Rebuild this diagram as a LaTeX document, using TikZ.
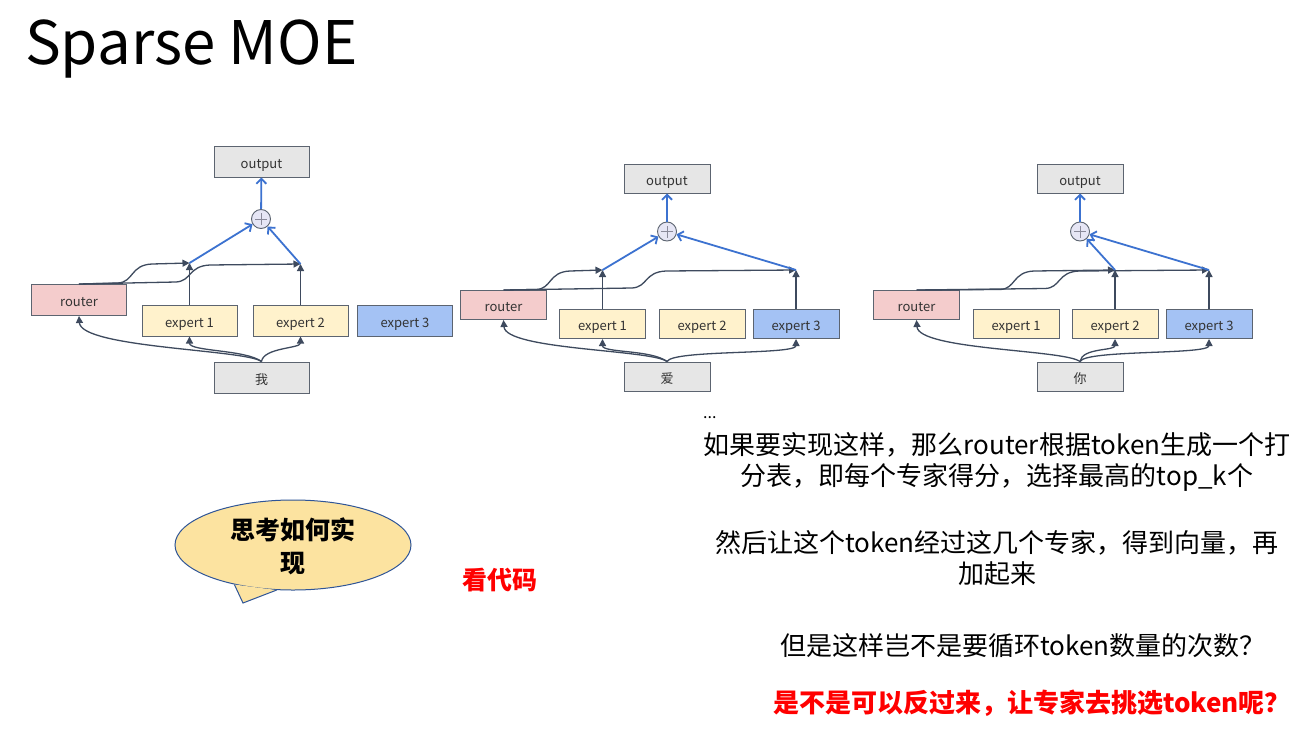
\documentclass[tikz,border=0pt]{standalone}
\usepackage{fontspec}
\setmainfont{Noto Sans CJK SC}
\usetikzlibrary{arrows.meta,shapes.geometric}
\definecolor{boxline}{HTML}{5C6470}
\definecolor{darkline}{HTML}{3E4A5E}
\definecolor{blueline}{HTML}{3C72D0}
\definecolor{grayfill}{HTML}{E6E6E6}
\definecolor{routerfill}{HTML}{F4CCCC}
\definecolor{expfill}{HTML}{FFF2CC}
\definecolor{exp3fill}{HTML}{A4C2F4}
\definecolor{plusfill}{HTML}{E6E6F5}
\definecolor{plusc}{HTML}{8A8A9A}
\definecolor{txt}{HTML}{333333}
\definecolor{bubblefill}{HTML}{FCE3A0}
\definecolor{bubbleline}{HTML}{2F5597}
\definecolor{redtxt}{HTML}{FF0000}
\tikzset{
  box/.style={draw=boxline, line width=1bp, minimum width=95bp, minimum height=31bp,
    inner sep=0pt, text height=13.5bp, text depth=0bp, font=\fontsize{13bp}{15bp}\selectfont, text=txt},
  sbox/.style={box, minimum width=86bp, minimum height=29bp},
  grayf/.style={fill=grayfill},
  routerf/.style={fill=routerfill},
  expf/.style={fill=expfill},
  exp3f/.style={fill=exp3fill},
  plusnode/.style={circle, draw=boxline, fill=plusfill, line width=0.9bp, minimum size=19bp, inner sep=0pt,
    path picture={\draw[draw=plusc, line width=0.8bp]
      ([xshift=-6bp]path picture bounding box.center) -- ([xshift=6bp]path picture bounding box.center)
      ([yshift=-6bp]path picture bounding box.center) -- ([yshift=6bp]path picture bounding box.center);}},
  darr/.style={draw=darkline, line width=1.3bp, -{Triangle[length=7bp,width=7bp]}},
  barr/.style={draw=blueline, line width=1.8bp, -{Straight Barb[length=5bp,width=10bp]}},
  body/.style={inner sep=0pt, text=black, align=center, font=\fontsize{26bp}{31bp}\selectfont},
}
\begin{document}
\begin{tikzpicture}[x=1bp,y=-1bp]
\useasboundingbox[fill=white] (0,0) rectangle (1301,737);

% title
\node[anchor=base west, inner sep=0pt, font=\fontsize{60bp}{70bp}\selectfont] (title) at (25,65) {Sparse MOE};

% ---------- diagram 1 ----------
\node[box, grayf] (out1) at (261.5,161.5) {output};
\node[plusnode] (p1) at (261,219) {};
\node[box, routerf] (r1) at (79,300) {router};
\node[box, expf] (a1) at (189.5,320.5) {expert 1};
\node[box, expf] (b1) at (300.5,320.5) {expert 2};
\node[box, exp3f] (c1) at (405,320.5) {expert 3};
\node[box, grayf] (t1) at (261.5,377.5) {我};
\coordinate (j1a) at (189.5,263);
\coordinate (j1b) at (300.5,264);
\draw[darr] (a1.north) -- (j1a);
\draw[darr] (b1.north) -- (j1b);
\draw[darr] (r1.north) -- (118,283) .. controls (134,282) and (130,265) .. (152,264) -- (j1a);
\draw[darr] (r1.north) -- (176,282) .. controls (192,281) and (188,266) .. (210,265) -- (j1b);
\draw[barr] (j1a) -- (p1);
\draw[barr] (j1b) -- (p1);
\draw[barr] (p1) -- (out1);
\draw[darr] (t1.north) .. controls +(-16,-12) and +(2,32) .. (r1.south);
\draw[darr] (t1.north) .. controls +(-16,-12) and +(0,15) .. (a1.south);
\draw[darr] (t1.north) .. controls +(2,-14) and +(0,12) .. (b1.south);

% ---------- diagram 2 ----------
\node[sbox, grayf] (out2) at (667,178.5) {output};
\node[plusnode] (p2) at (667,231.5) {};
\node[sbox, routerf] (r2) at (503.5,305) {router};
\node[sbox, expf] (a2) at (602.5,324) {expert 1};
\node[sbox, expf] (b2) at (702,324) {expert 2};
\node[sbox, exp3f] (c2) at (796,324) {expert 3};
\node[sbox, grayf] (t2) at (667,376.5) {爱};
\coordinate (j2a) at (602.5,270);
\coordinate (j2c) at (796,270);
\draw[darr] (a2.north) -- (j2a);
\draw[darr] (c2.north) -- (j2c);
\draw[darr] (r2.north) -- (536,289.5) .. controls (552,289) and (548,272) .. (570,271) -- (j2a);
\draw[darr] (r2.north) -- (632,288) .. controls (648,287) and (644,272) .. (666,271) -- (j2c);
\draw[barr] (j2a) -- (p2);
\draw[barr] (j2c) -- (p2);
\draw[barr] (p2) -- (out2);
\draw[darr] (t2.north) .. controls +(-16,-12) and +(2,30) .. (r2.south);
\draw[darr] (t2.north) .. controls +(-16,-12) and +(0,14) .. (a2.south);
\draw[darr] (t2.north) .. controls +(6,-12) and +(0,16) .. (c2.south);

% ---------- diagram 3 ----------
\node[sbox, grayf] (out3) at (1080,178.5) {output};
\node[plusnode] (p3) at (1080,231.5) {};
\node[sbox, routerf] (r3) at (916.5,305) {router};
\node[sbox, expf] (a3) at (1016,324) {expert 1};
\node[sbox, expf] (b3) at (1115,324) {expert 2};
\node[sbox, exp3f] (c3) at (1209,324) {expert 3};
\node[sbox, grayf] (t3) at (1080,376.5) {你};
\coordinate (j3b) at (1115,270);
\coordinate (j3c) at (1209,270);
\draw[darr] (b3.north) -- (j3b);
\draw[darr] (c3.north) -- (j3c);
\draw[darr] (r3.north) -- (1000,289.5) .. controls (1016,289) and (1012,272) .. (1034,271) -- (j3b);
\draw[darr] (r3.north) -- (1045,288.5) .. controls (1061,288) and (1057,272) .. (1079,271) -- (j3c);
\draw[barr] (j3b) -- (p3);
\draw[barr] (j3c) -- (p3);
\draw[barr] (p3) -- (out3);
\draw[darr] (t3.north) .. controls +(-16,-12) and +(2,30) .. (r3.south);
\draw[darr] (t3.north) .. controls +(2,-14) and +(0,12) .. (b3.south);
\draw[darr] (t3.north) .. controls +(6,-12) and +(0,16) .. (c3.south);

% ---------- bubble ----------
\node[ellipse, draw=bubbleline, fill=bubblefill, line width=1bp, minimum width=236bp,
      minimum height=90bp, inner sep=0pt] (bubble) at (293,545) {};
\coordinate (tip) at (243,603);
\fill[bubblefill] (bubble.214) -- (tip) -- (bubble.250) -- cycle;
\draw[draw=bubbleline, line width=1bp, line join=miter] (bubble.214) -- (tip) -- (bubble.250);
\node[inner sep=0pt, align=center, font=\fontsize{25bp}{33bp}\selectfont\bfseries] (think) at (293,546) {思考如何实\\现};

\node[inner sep=0pt, text=redtxt, font=\fontsize{25bp}{28bp}\selectfont\bfseries] (code) at (500,580) {看代码};

% ---------- right texts ----------
\node[anchor=west, inner sep=0pt, font=\fontsize{16bp}{18bp}\selectfont] (dots) at (703,418) {...};
\node[body] (para1) at (997,462) {如果要实现这样，那么router根据token生成一个打\\分表，即每个专家得分，选择最高的top\_k个};
\node[body] (para2) at (997,558) {然后让这个token经过这几个专家，得到向量，再\\加起来};
\node[body] (ques) at (1023,646) {但是这样岂不是要循环token数量的次数？};
\node[body, text=redtxt, font=\fontsize{26bp}{31bp}\selectfont\bfseries] (redq) at (1032,703) {是不是可以反过来，让专家去挑选token呢？};
\end{tikzpicture}
\end{document}
